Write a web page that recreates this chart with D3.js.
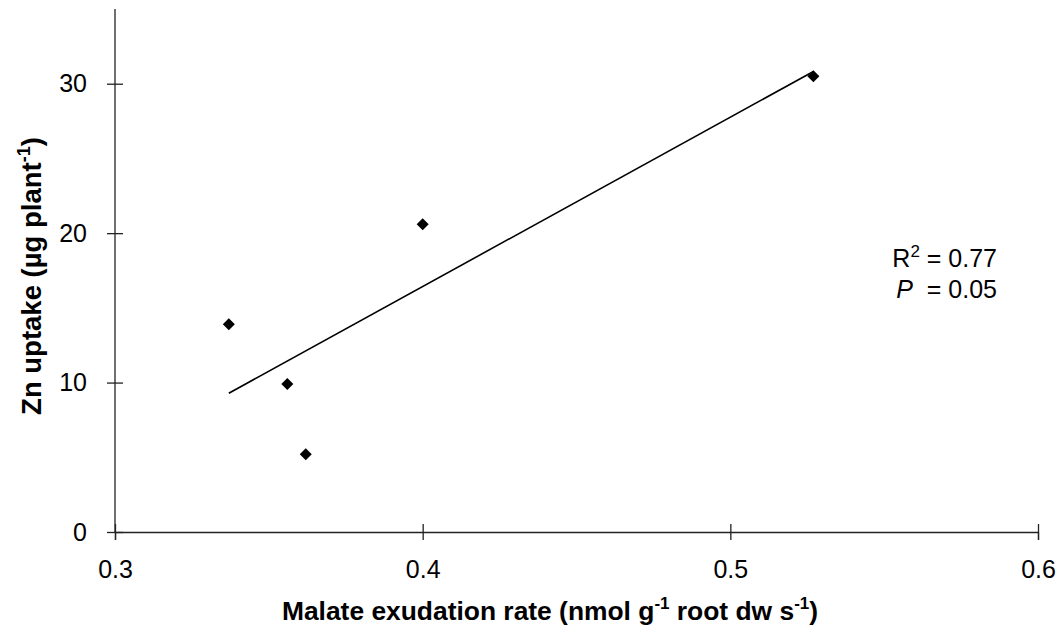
<!DOCTYPE html>
<html>
<head>
<meta charset="utf-8">
<script src="https://cdn.jsdelivr.net/npm/d3@7"></script>
<style>
  html, body { margin: 0; padding: 0; background: #fff; }
  svg { display: block; font-family: "Liberation Sans", Arial, sans-serif; }
</style>
</head>
<body>
<svg id="chart" width="1061" height="630"></svg>
<script>
// Malate exudation rate vs. Zn uptake
const exudation = [0.337, 0.356, 0.362, 0.400, 0.527];
const znUptake  = [13.9, 9.9, 5.2, 20.6, 30.5];
const xTicks = [0.3, 0.4, 0.5, 0.6];
const yTicks = [0, 10, 20, 30];
const statLines = [
  { label: "R", sup: "2", value: "0.77", italic: false },
  { label: "P", sup: "", value: "0.05", italic: true }
];

const svg = d3.select("#chart");
const margin = { left: 115, right: 23, top: 9, bottom: 98 };
const W = 1061, H = 630;

const x = d3.scaleLinear().domain([0.3, 0.6]).range([margin.left, W - margin.right]);
const y = d3.scaleLinear().domain([0, 35]).range([H - margin.bottom, margin.top]);

const axisColor = "#222";
const tickFont = 25;

// Y axis
const yAxis = svg.append("g")
  .attr("transform", `translate(${x(0.3)},0)`)
  .call(d3.axisLeft(y).tickValues(yTicks).tickFormat(d3.format("d")).tickSizeOuter(0).tickSize(8).tickPadding(20));
yAxis.select(".domain").attr("stroke", axisColor).attr("stroke-width", 1.3)
  .attr("d", `M0,${y(35)}V${y(0)}`);
yAxis.selectAll(".tick line").attr("x1", -8).attr("x2", 8).attr("stroke", axisColor).attr("stroke-width", 1.3);
yAxis.selectAll(".tick text").attr("font-size", tickFont).attr("fill", "#000")
  .attr("font-family", "Liberation Sans, Arial, sans-serif");

// X axis
const xAxis = svg.append("g")
  .attr("transform", `translate(0,${y(0)})`)
  .call(d3.axisBottom(x).tickValues(xTicks).tickFormat(d3.format(".1f")).tickSizeOuter(0).tickSize(8).tickPadding(20));
xAxis.select(".domain").attr("stroke", axisColor).attr("stroke-width", 1.3);
xAxis.selectAll(".tick line").attr("y1", -8).attr("y2", 8).attr("stroke", axisColor).attr("stroke-width", 1.3);
xAxis.selectAll(".tick text").attr("font-size", tickFont).attr("fill", "#000")
  .attr("font-family", "Liberation Sans, Arial, sans-serif");

// Least-squares trend line over the range of the data
const n = exudation.length;
const mx = d3.mean(exudation), my = d3.mean(znUptake);
let sxy = 0, sxx = 0;
for (let i = 0; i < n; i++) {
  sxy += (exudation[i] - mx) * (znUptake[i] - my);
  sxx += (exudation[i] - mx) ** 2;
}
const slope = sxy / sxx, intercept = my - slope * mx;
const [x0, x1] = d3.extent(exudation);
svg.append("line")
  .attr("x1", x(x0)).attr("y1", y(intercept + slope * x0))
  .attr("x2", x(x1)).attr("y2", y(intercept + slope * x1))
  .attr("stroke", "#000").attr("stroke-width", 1.6);

// Diamond markers
const r = 6;
svg.append("g").selectAll("path")
  .data(exudation.map((v, i) => [v, znUptake[i]]))
  .join("path")
  .attr("d", d => `M${x(d[0])},${y(d[1]) - r}L${x(d[0]) + r},${y(d[1])}L${x(d[0])},${y(d[1]) + r}L${x(d[0]) - r},${y(d[1])}Z`)
  .attr("fill", "#000");

// Statistics annotation
const stat = svg.append("g").attr("font-size", 25).attr("fill", "#000");
statLines.forEach((s, i) => {
  const t = stat.append("text")
    .attr("x", 997).attr("y", 267 + i * 31)
    .attr("text-anchor", "end");
  const lab = t.append("tspan").text(s.label);
  if (s.italic) lab.attr("font-style", "italic");
  if (s.sup) {
    t.append("tspan").attr("font-size", 17).attr("dy", -10).text(s.sup);
    t.append("tspan").attr("dy", 10).text(" = " + s.value);
  } else {
    t.append("tspan").text("  = " + s.value).attr("xml:space", "preserve");
  }
});

// Axis titles
const xt = svg.append("text")
  .attr("x", 550).attr("y", 620)
  .attr("text-anchor", "middle").attr("font-size", 26.4).attr("font-weight", "bold").attr("fill", "#000");
xt.append("tspan").text("Malate exudation rate (nmol g");
xt.append("tspan").attr("font-size", 17).attr("dy", -11).text("-1");
xt.append("tspan").attr("dy", 11).text(" root dw s");
xt.append("tspan").attr("font-size", 17).attr("dy", -11).text("-1");
xt.append("tspan").attr("dy", 11).text(")");

const yt = svg.append("text")
  .attr("transform", `translate(41,276) rotate(-90)`)
  .attr("text-anchor", "middle").attr("font-size", 27.5).attr("font-weight", "bold").attr("fill", "#000");
yt.append("tspan").text("Zn uptake (µg plant");
yt.append("tspan").attr("font-size", 18).attr("dy", -11).text("-1");
yt.append("tspan").attr("dy", 11).text(")");
</script>
</body>
</html>
